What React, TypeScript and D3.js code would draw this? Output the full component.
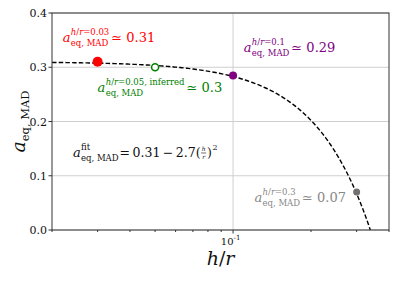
import React from 'react'
import * as d3 from 'd3'

const W = 397
const H = 283
const margin = { left: 52, right: 8, top: 13, bottom: 53 }
const FONT = "'DejaVu Serif', serif"

// axes
const xDomain = [0.02, 0.4]
const yDomain = [0, 0.4]
const yTicks = [0.0, 0.1, 0.2, 0.3, 0.4]
const xMajor = [0.1]
const xMinor = [0.02, 0.03, 0.04, 0.05, 0.06, 0.07, 0.08, 0.09, 0.2, 0.3, 0.4]

// measured points
const pointHr = ['0.03', '0.05, inferred', '0.1', '0.3']
const pointX = [0.03, 0.05, 0.1, 0.3]
const pointY = [0.31, 0.3, 0.285, 0.07]
const pointText = ['0.31', '0.3', '0.29', '0.07']
const pointColors = ['#ff0000', '#008000', '#800080', '#888888']
const pointFill = ['#ff0000', 'white', '#800080', '#707070']
const pointR = [5, 3.5, 4, 3.5]
// label anchors (data coords)
const labelX = [0.022, 0.03, 0.11, 0.121]
const labelY = [0.347, 0.254, 0.328, 0.0516]

// fit a = 0.31 - 2.7 (h/r)^2
const fitA = 0.31
const fitB = 2.7
const fitLabelX = 0.0241
const fitLabelY = 0.1346

let ctx: CanvasRenderingContext2D | null = null
function tw(s: string, size: number, italic = false) {
  if (!ctx) ctx = document.createElement('canvas').getContext('2d')
  if (!ctx) return s.length * size * 0.5
  ctx.font = `${italic ? 'italic ' : ''}${size}px ${FONT}`
  return ctx.measureText(s).width
}

type Part = [string, boolean]

function partsWidth(parts: Part[], size: number) {
  return parts.reduce((acc, p) => acc + tw(p[0], size, p[1]), 0)
}

function Parts({ parts }: { parts: Part[] }) {
  return (
    <>
      {parts.map((p, i) => (
        <tspan key={i} style={{ fontStyle: p[1] ? 'italic' : 'normal' }}>
          {p[0]}
        </tspan>
      ))}
    </>
  )
}

function MathA({ x, y, sup, color, rest, size = 13, small = 8.5 }: any) {
  const aw = tw('a', size, true) + 0.3
  const sub: Part[] = [['eq, MAD', false]]
  const supW = partsWidth(sup, small)
  const subW = partsWidth(sub, small)
  const restX = x + aw + Math.max(supW, subW) + 2
  return (
    <g fill={color}>
      <text x={x} y={y} fontSize={size} style={{ fontStyle: 'italic' }}>a</text>
      <text x={x + aw} y={y - 7} fontSize={small}>
        <Parts parts={sup} />
      </text>
      <text x={x + aw} y={y + 4} fontSize={small}>
        <Parts parts={sub} />
      </text>
      {typeof rest === 'function' ? rest(restX) : (
        <text x={restX} y={y} fontSize={size}>{rest}</text>
      )}
    </g>
  )
}

export default function App() {
  const x = d3.scaleLog().domain(xDomain).range([margin.left, W - margin.right])
  const y = d3.scaleLinear().domain(yDomain).range([H - margin.bottom, margin.top])
  const x0 = margin.left
  const x1 = W - margin.right
  const y0 = H - margin.bottom
  const y1 = margin.top

  const xZero = Math.sqrt(fitA / fitB)
  const fitXs = d3.range(0, 201).map((i) => Math.exp(Math.log(xDomain[0]) + (Math.log(xZero * 1.02) - Math.log(xDomain[0])) * i / 200))
  const line = d3.line<number>().x((d) => x(d)).y((d) => y(fitA - fitB * d * d))

  const hrSup = (v: string): Part[] => [['h', true], ['/', false], ['r', true], ['=' + v, false]]

  return (
    <svg width={W} height={H} style={{ position: 'absolute', left: 0, top: 0, background: 'white', fontFamily: FONT }}>
      <defs>
        <clipPath id="plot">
          <rect x={x0} y={y1} width={x1 - x0} height={y0 - y1} />
        </clipPath>
      </defs>
      {/* grid */}
      {yTicks.map((t) => (
        <line key={'gy' + t} x1={x0} x2={x1} y1={y(t)} y2={y(t)} stroke="#cfcfcf" strokeWidth={1} />
      ))}
      {xMajor.map((t) => (
        <line key={'gx' + t} x1={x(t)} x2={x(t)} y1={y0} y2={y1} stroke="#cfcfcf" strokeWidth={1} />
      ))}
      {/* fit curve */}
      <path d={line(fitXs) || ''} fill="none" stroke="black" strokeWidth={1.4} strokeDasharray="4.5,2.2" clipPath="url(#plot)" />
      {/* points */}
      {pointX.map((px, i) => (
        <circle key={'p' + i} cx={x(px)} cy={y(pointY[i])} r={pointR[i]} fill={pointFill[i]} stroke={pointColors[i]} strokeWidth={pointFill[i] === 'white' ? 1.5 : 0} />
      ))}
      {/* frame */}
      <rect x={x0} y={y1} width={x1 - x0} height={y0 - y1} fill="none" stroke="#333" strokeWidth={1} />
      {/* y ticks */}
      {yTicks.map((t) => (
        <g key={'yt' + t}>
          <line x1={x0 - 3.5} x2={x0} y1={y(t)} y2={y(t)} stroke="#333" />
          <text x={x0 - 5} y={y(t) + 4} textAnchor="end" fontSize={11} fill="#111">{t.toFixed(1)}</text>
        </g>
      ))}
      {/* x ticks */}
      {xMinor.map((t) => (
        <line key={'xm' + t} x1={x(t)} x2={x(t)} y1={y0} y2={y0 + 2} stroke="#333" />
      ))}
      {xMajor.map((t) => (
        <g key={'xt' + t}>
          <line x1={x(t)} x2={x(t)} y1={y0} y2={y0 + 3.5} stroke="#333" />
          <text x={x(t) + 0.5} y={y0 + 15} textAnchor="end" fontSize={10} fill="#111">10</text>
          <text x={x(t) + 0.5} y={y0 + 10} fontSize={7} fill="#111">-1</text>
        </g>
      ))}
      {/* axis labels */}
      <text x={(x0 + x1) / 2} y={265} textAnchor="middle" fontSize={19} fill="#111">
        <tspan style={{ fontStyle: 'italic' }}>h</tspan>/<tspan style={{ fontStyle: 'italic' }}>r</tspan>
      </text>
      <text transform={`translate(25,${(y0 + y1) / 2}) rotate(-90)`} textAnchor="middle" fill="#111">
        <tspan fontSize={19} style={{ fontStyle: 'italic' }}>a</tspan>
        <tspan fontSize={11.5} dy={4}>eq, MAD</tspan>
      </text>
      {/* point annotations */}
      {pointX.map((_, i) => (
        <MathA key={'a' + i} x={x(labelX[i])} y={y(labelY[i])} sup={hrSup(pointHr[i])} color={pointColors[i]} rest={'\u2243 ' + pointText[i]} />
      ))}
      {/* fit annotation */}
      <MathA
        x={x(fitLabelX)}
        y={y(fitLabelY)}
        sup={[['fit', false]]}
        color="#111"
        rest={(rx: number) => {
          const s = `=\u20090.31\u2009\u2212\u20092.7(`
          const sw = tw(s, 12.5)
          const fx = rx - 1 + sw
          const by = y(fitLabelY)
          return (
            <g>
              <text x={rx - 1} y={by} fontSize={12.5}>{s}</text>
              <text x={fx + 3} y={by - 5.5} fontSize={6} textAnchor="middle" style={{ fontStyle: 'italic' }}>h</text>
              <line x1={fx + 0.5} x2={fx + 5.5} y1={by - 4} y2={by - 4} stroke="#111" strokeWidth={0.6} />
              <text x={fx + 3} y={by + 2} fontSize={6} textAnchor="middle" style={{ fontStyle: 'italic' }}>r</text>
              <text x={fx + 6.5} y={by} fontSize={12.5}>)</text>
              <text x={fx + 7 + tw(')', 12.5)} y={by - 7} fontSize={8}>2</text>
            </g>
          )
        }}
      />
    </svg>
  )
}
